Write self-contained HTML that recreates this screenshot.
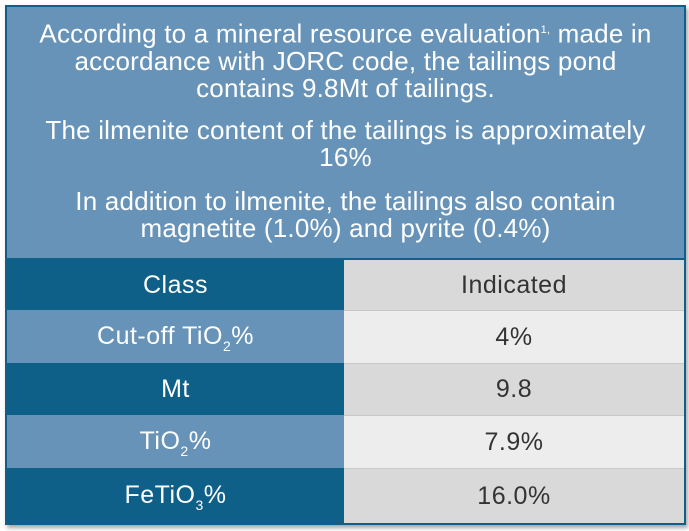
<!DOCTYPE html>
<html><head><style>
body{margin:0;background:#fff;width:689px;height:531px;position:relative;font-family:"Liberation Sans",sans-serif;overflow:hidden}
.box{position:absolute;left:5px;top:5px;width:677px;height:516px;border:2px solid #0f5f8a;background:#0f6089;box-shadow:2px 3px 4px rgba(0,0,0,0.35)}
.top{position:absolute;left:0;top:0;width:677px;height:251px;background:#6793b8;color:#fff;text-align:center;font-size:26px;letter-spacing:0.2px;line-height:27px;white-space:nowrap}
.top p{margin:0}
.r{position:absolute;left:0;width:677px;display:flex}
.r>div{display:flex;align-items:center;justify-content:center;font-size:25px;letter-spacing:0.5px}
.l{width:337px;color:#fff}
.v{width:340px;color:#333;border-top:1px solid #c8c8c8}
sub{font-size:14px;vertical-align:-7px;line-height:0}
</style></head><body>
<div class="box">
<div class="top">
<p style="padding-top:10px">According to a mineral resource evaluation<sup style="font-size:11px">1,</sup> made in<br>accordance with JORC code, the tailings pond<br>contains 9.8Mt of tailings.</p>
<p style="margin-top:15px">The ilmenite content of the tailings is approximately<br>16%</p>
<p style="margin-top:17px">In addition to ilmenite, the tailings also contain<br>magnetite (1.0%) and pyrite (0.4%)</p>
</div>
<div class="r" style="top:253px;height:50px"><div class="l" style="background:#0f6089"><span>Class</span></div><div class="v" style="background:#d9d9d9;border-top:none"><span>Indicated</span></div></div>
<div class="r" style="top:303px;height:53px"><div class="l" style="background:#6793b8"><span>Cut-off TiO<sub>2</sub>%</span></div><div class="v" style="background:#ededed"><span>4%</span></div></div>
<div class="r" style="top:356px;height:52px"><div class="l" style="background:#0f6089"><span>Mt</span></div><div class="v" style="background:#d9d9d9"><span>9.8</span></div></div>
<div class="r" style="top:408px;height:53px"><div class="l" style="background:#6793b8"><span>TiO<sub>2</sub>%</span></div><div class="v" style="background:#ededed"><span>7.9%</span></div></div>
<div class="r" style="top:461px;height:55px"><div class="l" style="background:#0f6089"><span>FeTiO<sub>3</sub>%</span></div><div class="v" style="background:#d9d9d9"><span>16.0%</span></div></div>
</div>
</body></html>
